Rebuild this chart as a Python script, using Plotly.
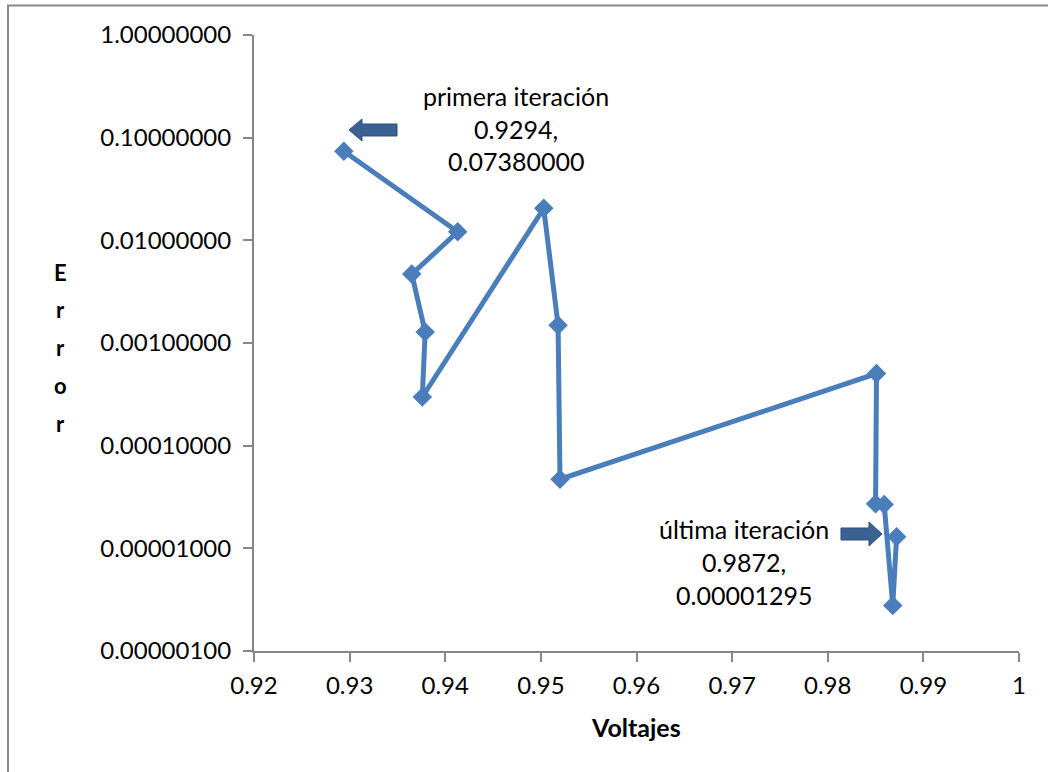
import plotly.graph_objects as go

# Newton iterations: voltage vs. error
voltajes = [0.9294, 0.9413, 0.9365, 0.9379, 0.9376, 0.9503, 0.9518, 0.9520,
            0.9851, 0.9850, 0.9859, 0.9868, 0.9872]
errores = [0.07380000, 0.01210000, 0.00469000, 0.00128000, 0.00029800,
           0.02050000, 0.00149000, 0.00004710, 0.00050400, 0.00002720,
           0.00002680, 0.00000278, 0.00001295]

y_tickvals = [1e-6, 1e-5, 1e-4, 1e-3, 1e-2, 1e-1, 1.0]
y_ticktext = [f"{v:.8f}" for v in y_tickvals]
x_tickvals = [0.92, 0.93, 0.94, 0.95, 0.96, 0.97, 0.98, 0.99, 1.0]
x_ticktext = ["0.92", "0.93", "0.94", "0.95", "0.96", "0.97", "0.98", "0.99", "1"]

W, H = 1048, 772
ML, MR, MT, MB = 254, 29, 35, 121
PW, PH = W - ML - MR, H - MT - MB


def px(x, y):
    """Pixel position on the page -> paper coordinates."""
    return (x - ML) / PW, (H - MB - y) / PH


LINE = "#4A7EBB"
AXIS = "#868686"
FONT = "Lato, Calibri, Arial, sans-serif"

fig = go.Figure(
    go.Scatter(
        x=voltajes, y=errores, mode="lines+markers",
        line=dict(color=LINE, width=5),
        marker=dict(symbol="diamond", size=15, color=LINE),
        cliponaxis=False, showlegend=False,
    )
)

annotations = []


def text_at(x, y, s, size=25, bold=False):
    ax, ay = px(x, y)
    annotations.append(dict(
        xref="paper", yref="paper", x=ax, y=ay, text=f"<b>{s}</b>" if bold else s,
        showarrow=False, xanchor="center", yanchor="middle",
        font=dict(family=FONT, size=size, color="#000000"),
    ))


# Data labels for first and last iteration
first_lines = ["primera iteración", f"{voltajes[0]:.4f},", f"{errores[0]:.8f}"]
for i, s in enumerate(first_lines):
    text_at(516, 96 + 32.5 * i, s)
last_lines = ["última iteración", f"{voltajes[-1]:.4f},", f"{errores[-1]:.8f}"]
for i, s in enumerate(last_lines):
    text_at(744, 529 + 33 * i, s)

# Axis titles
text_at(636, 727, "Voltajes", size=25, bold=True)
for i, ch in enumerate("Error"):
    text_at(60, 272 + 37.8 * i, ch, size=22, bold=True)


def block_arrow(points):
    pts = [px(x, y) for x, y in points]
    d = "M " + " L ".join(f"{a:.5f},{b:.5f}" for a, b in pts) + " Z"
    return dict(type="path", xref="paper", yref="paper", path=d,
                fillcolor="#3A6192", line=dict(color="#2E5080", width=1))


shapes = [
    # outer chart frame
    dict(type="rect", xref="paper", yref="paper",
         x0=px(8, 0)[0], x1=px(1070, 0)[0], y0=px(0, 800)[1], y1=px(0, 5.5)[1],
         line=dict(color="#898989", width=2), fillcolor="rgba(0,0,0,0)", layer="below"),
    # arrow pointing to first point
    block_arrow([(349, 130), (362, 119), (362, 124), (397, 124), (397, 136),
                 (362, 136), (362, 141)]),
    # arrow pointing to last point
    block_arrow([(882, 534), (869, 522), (869, 528), (841, 528), (841, 540),
                 (869, 540), (869, 546)]),
]

fig.update_layout(
    width=W, height=H,
    margin=dict(l=ML, r=MR, t=MT, b=MB, pad=0),
    paper_bgcolor="white", plot_bgcolor="white",
    font=dict(family=FONT, size=24, color="#000000"),
    annotations=annotations, shapes=shapes,
    xaxis=dict(
        range=[0.92, 1.0], tickvals=x_tickvals, ticktext=x_ticktext,
        showgrid=False, zeroline=False, showline=True, linecolor=AXIS, linewidth=2,
        ticks="outside", ticklen=9, tickwidth=2, tickcolor=AXIS,
        ticklabelstandoff=3, tickfont=dict(family=FONT, size=24),
    ),
    yaxis=dict(
        type="log", range=[-6, 0], tickvals=y_tickvals, ticktext=y_ticktext,
        showgrid=False, zeroline=False, showline=True, linecolor=AXIS, linewidth=2,
        ticks="outside", ticklen=9, tickwidth=2, tickcolor=AXIS,
        ticklabelstandoff=7, tickfont=dict(family=FONT, size=24),
    ),
)

fig.write_html("out.html")
